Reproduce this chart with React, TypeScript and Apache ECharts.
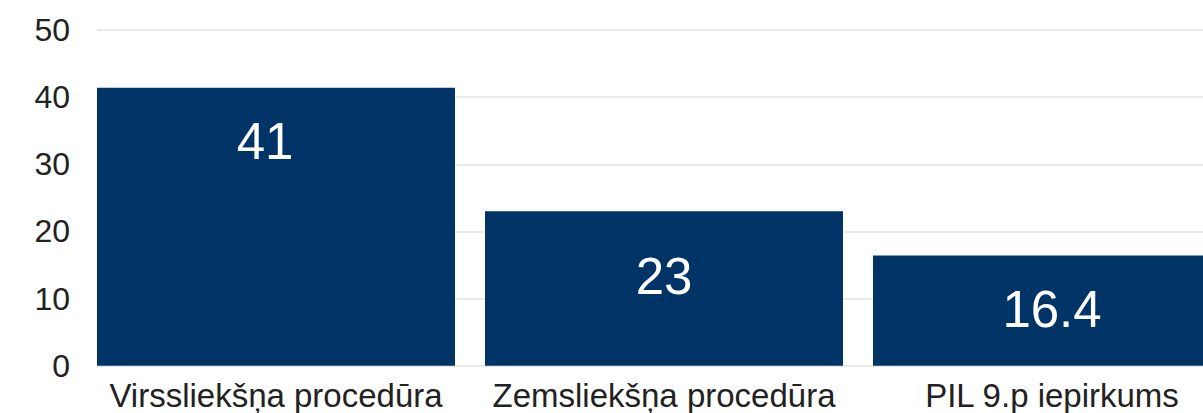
import React, { useEffect, useRef } from "react";
import * as echarts from "echarts";

const categories = ["Virssliekšņa procedūra", "Zemsliekšņa procedūra", "PIL 9.p iepirkums"];
const values = [41.4, 23, 16.4];
const valueLabels = ["41", "23", "16.4"];
const yTicks = { min: 0, max: 50, interval: 10 };

export default function App() {
  const ref = useRef<HTMLDivElement>(null);
  useEffect(() => {
    if (!ref.current) return;
    const chart = echarts.init(ref.current, undefined, { renderer: "svg" });
    const labelOffsets = [[-11, 0], [0, 12], [0, 0]];
    chart.setOption({
      animation: false,
      grid: { left: 97, top: 30, width: 1164, height: 335.7, outerBoundsMode: "none", containLabel: false },
      xAxis: {
        type: "category",
        data: categories,
        axisLine: { show: false },
        axisTick: { show: false },
        axisLabel: {
          color: "#222",
          fontSize: 33,
          fontFamily: "Liberation Sans, Arial, sans-serif",
          margin: 13,
          interval: 0,
          padding: [0, 30, 0, 0],
        },
      },
      yAxis: {
        type: "value",
        min: yTicks.min,
        max: yTicks.max,
        interval: yTicks.interval,
        axisLine: { show: false },
        axisTick: { show: false },
        splitLine: { lineStyle: { color: "#e3e3e3", width: 1.5 } },
        axisLabel: {
          color: "#222",
          fontSize: 32,
          fontFamily: "Liberation Sans, Arial, sans-serif",
          margin: 27,
        },
      },
      series: [
        {
          type: "bar",
          barWidth: 358,
          barGap: "8.1%",
          itemStyle: { color: "#003366" },
          data: values.map((v, i) => ({
            value: v,
            label: { offset: labelOffsets[i] },
          })),
          label: {
            show: true,
            position: "insideTop",
            distance: 28,
            color: "#ffffff",
            fontSize: 51,
            fontFamily: "Liberation Sans, Arial, sans-serif",
            formatter: (p: any) => valueLabels[p.dataIndex],
          },
        },
        {
          type: "bar",
          barWidth: 1,
          barGap: "8.1%",
          data: categories.map(() => null),
        },
      ],
    });
    return () => chart.dispose();
  }, []);
  return (
    <div
      ref={ref}
      style={{ position: "fixed", left: 0, top: 0, width: 1203, height: 413, background: "#fff" }}
    />
  );
}
